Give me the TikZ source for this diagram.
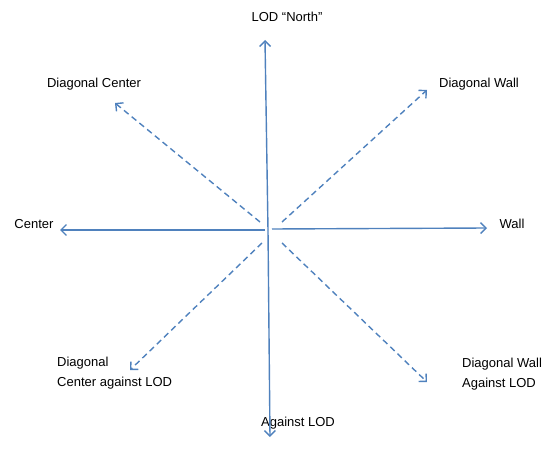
\documentclass[tikz,border=0pt]{standalone}
\usepackage{fontspec}
\setmainfont{Liberation Sans}
\usetikzlibrary{arrows.meta}

\definecolor{axisblue}{RGB}{79,129,189}

\begin{document}
\begin{tikzpicture}[x=1pt, y=-1pt, font=\fontsize{13}{20}\selectfont]
        \useasboundingbox (0, 0) rectangle (550, 460);

        % labels
        \node (north) at (287, 17) {LOD ``North''};
        \node (diagcenter) at (94, 84) {Diagonal Center};
        \node (diagwall) at (479, 84) {Diagonal Wall};
        \node (center) at (34, 224) {Center};
        \node (wall) at (512, 224) {Wall};
        \node[align=left, anchor=west, inner sep=0pt] (diagcenterlod) at (57, 373) {Diagonal \\ Center against LOD};
        \node[align=left, anchor=west, inner sep=0pt] (diagwalllod) at (462, 374) {Diagonal Wall \\ Against LOD};
        \node (against) at (298, 423) {Against LOD};

        % arrow ends
        \coordinate (o) at (268, 230);
        \coordinate (oleft) at (265, 230);
        \coordinate (oright) at (272, 229);
        \coordinate (tnorth) at (265, 40);
        \coordinate (tsouth) at (270, 437);
        \coordinate (tcenter) at (60, 230);
        \coordinate (twall) at (487, 228);
        \coordinate (onw) at (260, 222);
        \coordinate (one) at (282, 222);
        \coordinate (osw) at (262, 243);
        \coordinate (ose) at (282, 243);
        \coordinate (tnw) at (115, 103);
        \coordinate (tne) at (427, 90);
        \coordinate (tsw) at (130, 370);
        \coordinate (tse) at (427, 382);

        \begin{scope}[axisblue, line width=1.4pt, -{Straight Barb[length=5.5pt, width=11pt]}]
            \draw (o) -- (tnorth);
            \draw (o) -- (tsouth);
            \draw (oleft) -- (tcenter);
            \draw (oright) -- (twall);
            \begin{scope}[dash pattern=on 6pt off 4pt]
                \draw (onw) -- (tnw);
                \draw (one) -- (tne);
                \draw (osw) -- (tsw);
                \draw (ose) -- (tse);
            \end{scope}
        \end{scope}
    \end{tikzpicture}
\end{document}
